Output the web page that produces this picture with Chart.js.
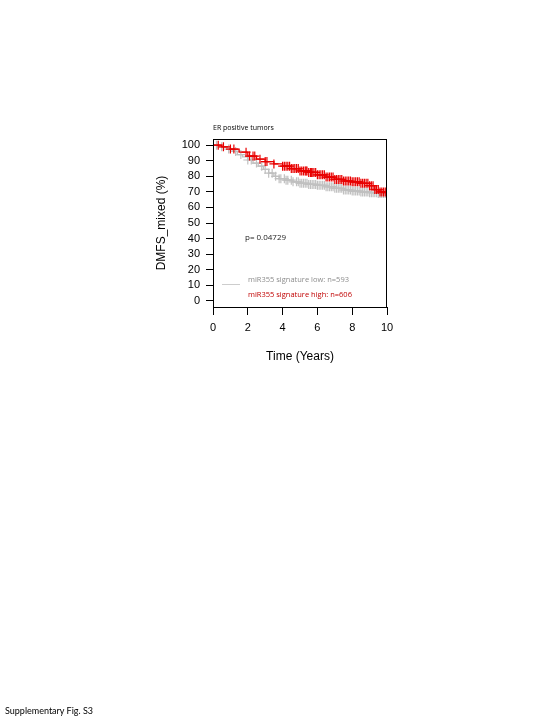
<!DOCTYPE html>
<html><head><meta charset="utf-8">
<script src="https://cdn.jsdelivr.net/npm/chart.js@4.4.1/dist/chart.umd.min.js"></script>
<style>
html,body{margin:0;padding:0;background:#fff;width:540px;height:720px;overflow:hidden}
#wrap{position:relative;width:540px;height:720px}
canvas{position:absolute;left:0;top:0}
#foot{position:absolute;left:5px;top:705px;font:9px Lato,'Open Sans',sans-serif;color:#000;white-space:nowrap}
</style></head>
<body><div id="wrap"><canvas id="c" width="540" height="720"></canvas><div id="foot">Supplementary Fig. S3</div></div>
<script>
// ---- data ----
const lowTimes  = [0, 0.4, 0.8, 1.1, 1.4, 1.7, 2.0, 2.3, 2.6, 2.9, 3.2, 3.5, 3.8, 4.2, 4.6, 5.0, 5.5, 6.0, 6.5, 7.0, 7.5, 8.0, 8.5, 9.0, 9.5, 10];
const lowSurv   = [100, 99, 97.5, 96, 94, 92.5, 90.5, 88.5, 86.5, 84.5, 82, 80, 78.5, 77.5, 76.5, 75.5, 74.8, 74.2, 73.3, 72.3, 71.2, 70.5, 70, 69.5, 69, 68.8];
const lowCensor = [0.2, 0.5, 0.9, 1.3, 1.6, 2.0, 2.2, 2.5, 2.8, 3.0, 3.2, 3.4, 3.6, 3.8, 3.9, 4.1, 4.2, 4.3, 4.5, 4.6, 4.8, 4.9, 5.0, 5.1, 5.2, 5.3, 5.4, 5.5, 5.6, 5.7, 5.8, 5.9, 6.0, 6.1, 6.2, 6.3, 6.4, 6.5, 6.6, 6.7, 6.8, 6.9, 7.0, 7.1, 7.2, 7.3, 7.4, 7.5, 7.6, 7.7, 7.8, 7.9, 8.0, 8.1, 8.2, 8.3, 8.4, 8.5, 8.6, 8.7, 8.8, 8.9, 9.0, 9.1, 9.2, 9.3, 9.4, 9.5, 9.6, 9.7, 9.8, 9.9, 10.0];

const highTimes  = [0, 0.5, 1.0, 1.5, 2.0, 2.5, 3.0, 3.5, 4.0, 4.5, 5.0, 5.5, 6.0, 6.5, 7.0, 7.5, 8.0, 8.5, 9.0, 9.3, 9.6, 10];
const highSurv   = [100, 99, 97.5, 95.5, 93, 91, 89.5, 88, 86.5, 85, 83.5, 82.5, 81, 79.5, 78, 77, 76.5, 75.5, 74, 71.5, 70, 69.5];
const highCensor = [0.3, 0.6, 1.0, 1.2, 1.9, 2.1, 2.3, 2.4, 2.7, 3.0, 3.1, 3.5, 4.0, 4.1, 4.2, 4.3, 4.4, 4.5, 4.6, 4.7, 4.8, 4.9, 5.0, 5.1, 5.2, 5.3, 5.35, 5.4, 5.5, 5.6, 5.65, 5.7, 5.8, 5.9, 6.0, 6.1, 6.2, 6.3, 6.4, 6.5, 6.6, 6.7, 6.8, 6.9, 7.0, 7.1, 7.2, 7.3, 7.4, 7.5, 7.6, 7.7, 7.8, 7.9, 8.0, 8.1, 8.2, 8.3, 8.4, 8.5, 8.6, 8.7, 8.8, 8.9, 9.0, 9.1, 9.2, 9.3, 9.4, 9.5, 9.6, 9.7, 9.8, 9.9, 10.0];

const xTicks = [0, 2, 4, 6, 8, 10];
const yTicks = [0, 10, 20, 30, 40, 50, 60, 70, 80, 90, 100];

const titleText = 'ER positive tumors';
const xTitle = 'Time (Years)';
const yTitle = 'DMFS_mixed (%)';
const pText = 'p= 0.04729';
const lowLabel = 'miR355 signature low: n=593';
const highLabel = 'miR355 signature high: n=606';

// ---- helpers ----
function curve(times, surv){ return times.map((t,i)=>({x:t, y:surv[i]})); }
function stepAt(times, surv, t){ let v = surv[0]; for (let i=0;i<times.length;i++){ if (times[i] <= t) v = surv[i]; } return v; }
function censorPts(c, times, surv){ return c.map(t=>({x:t, y:stepAt(times, surv, t)})); }

const RED = 'rgb(232,0,0)';
const GREY = 'rgb(192,192,192)';

const boxAndText = {
  id: 'boxAndText',
  afterDraw(chart){
    const {ctx, chartArea:a} = chart;
    ctx.save();
    ctx.strokeStyle = '#000'; ctx.lineWidth = 1;
    ctx.strokeRect(Math.round(a.left)+0.5, Math.round(a.top)+0.5, Math.round(a.right-a.left)-1, Math.round(a.bottom-a.top));
    // title
    ctx.fillStyle = '#000';
    ctx.font = "7px 'Open Sans', sans-serif";
    ctx.textAlign = 'left'; ctx.textBaseline = 'middle';
    ctx.fillText(titleText, 213, 128);
    // axis titles
    ctx.font = "12px 'Liberation Sans', Arial, sans-serif";
    ctx.textAlign = 'center';
    ctx.fillText(xTitle, (a.left+a.right)/2, 357);
    ctx.save();
    ctx.translate(162, (a.top+a.bottom)/2);
    ctx.rotate(-Math.PI/2);
    ctx.fillText(yTitle, 0, 0);
    ctx.restore();
    // p-value
    ctx.font = "8px 'Open Sans', sans-serif";
    ctx.textAlign = 'left';
    ctx.fillStyle = '#222';
    ctx.fillText(pText, 245, 238);
    // legend
    ctx.strokeStyle = 'rgb(205,205,205)';
    ctx.beginPath(); ctx.moveTo(222, 284.5); ctx.lineTo(240, 284.5); ctx.stroke();
    ctx.font = "7.5px 'Open Sans', sans-serif";
    ctx.fillStyle = 'rgb(140,140,140)';
    ctx.fillText(lowLabel, 248, 280);
    ctx.fillStyle = 'rgb(192,0,0)';
    ctx.fillText(highLabel, 248, 295);
    ctx.restore();
  }
};

new Chart(document.getElementById('c'), {
  type: 'scatter',
  data: {
    datasets: [
      { type:'scatter', data: censorPts(highCensor, highTimes, highSurv), pointStyle:'cross', pointRadius:4.5, borderColor:RED, backgroundColor:RED, borderWidth:1.2 },
      { type:'line', data: curve(highTimes, highSurv), stepped:'before', borderColor:RED, borderWidth:1.3, pointRadius:0, fill:false },
      { type:'scatter', data: censorPts(lowCensor, lowTimes, lowSurv), pointStyle:'cross', pointRadius:4.5, borderColor:GREY, backgroundColor:GREY, borderWidth:1.2 },
      { type:'line', data: curve(lowTimes, lowSurv), stepped:'before', borderColor:GREY, borderWidth:1.3, pointRadius:0, fill:false }
    ]
  },
  options: {
    responsive:false, animation:false, devicePixelRatio:1,
    layout:{ padding:{ left:150, top:139, right:153, bottom:373 } },
    plugins:{ legend:{display:false}, tooltip:{enabled:false}, title:{display:false} },
    scales:{
      x:{ type:'linear', min:0, max:10,
        afterBuildTicks:s=>{ s.ticks = xTicks.map(v=>({value:v})); },
        afterFit:s=>{ s.height = 40; },
        grid:{ drawOnChartArea:false, drawTicks:true, tickLength:8, color:'#000', lineWidth:1 },
        border:{ display:true, color:'#000', width:1 },
        ticks:{ color:'#000', font:{ family:"'Liberation Sans', Arial, sans-serif", size:11 }, padding:6, maxRotation:0, autoSkip:false }
      },
      y:{ type:'linear', min:-4, max:104,
        afterBuildTicks:s=>{ s.ticks = yTicks.map(v=>({value:v})); },
        afterFit:s=>{ s.width = 63; },
        grid:{ drawOnChartArea:false, drawTicks:true, tickLength:7, color:'#000', lineWidth:1 },
        border:{ display:true, color:'#000', width:1 },
        ticks:{ color:'#000', font:{ family:"'Liberation Sans', Arial, sans-serif", size:11 }, padding:6, autoSkip:false }
      }
    }
  },
  plugins:[boxAndText]
});
</script>
</body></html>
